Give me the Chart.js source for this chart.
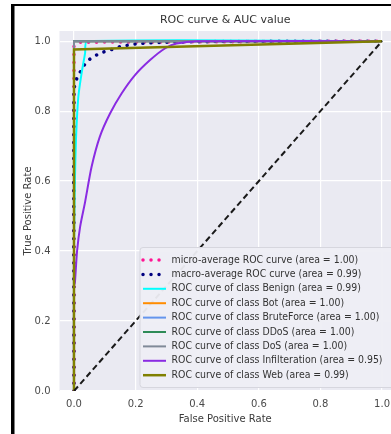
<!DOCTYPE html>
<html><head><meta charset="utf-8">
<script src="https://cdn.jsdelivr.net/npm/chart.js@4.4.1/dist/chart.umd.min.js"></script>
<style>html,body{margin:0;padding:0;background:#fff;overflow:hidden}canvas{display:block}</style>
</head><body>
<canvas id="c" width="391" height="434"></canvas>
<script>
// ---- data ----
const xTicks = [0.0, 0.2, 0.4, 0.6, 0.8, 1.0];
const yTicks = [0.0, 0.2, 0.4, 0.6, 0.8, 1.0];
const classNames = ['Benign', 'Bot', 'BruteForce', 'DDoS', 'DoS', 'Infilteration', 'Web'];
const classAUC = [0.99, 1.00, 1.00, 1.00, 1.00, 0.95, 0.99];
const microAUC = 1.00;
const macroAUC = 0.99;

const microFpr = [0, 0, 0.02, 1];
const microTpr = [0, 0.985, 0.997, 1];
const macroFpr = [0, 0, 0.009, 0.025, 0.041, 0.066, 0.093, 0.122, 0.149, 0.18, 0.21, 0.3, 0.5, 1];
const macroTpr = [0, 0.86, 0.893, 0.919, 0.941, 0.957, 0.968, 0.976, 0.984, 0.989, 0.993, 0.997, 0.999, 1];
const benignFpr = [0, 0, 0.003, 0.0065, 0.014, 0.025, 0.036, 0.042, 1];
const benignTpr = [0, 0.4, 0.6, 0.72, 0.84, 0.91, 0.965, 1.0, 1.0];
const botFpr = [0, 0, 1];
const botTpr = [0, 1, 1];
const bruteFpr = [0, 0, 1];
const bruteTpr = [0, 1, 1];
const ddosFpr = [0, 0, 1];
const ddosTpr = [0, 1, 1];
const dosFpr = [0, 0, 1];
const dosTpr = [0, 1, 1];
const infilFpr = [0, 0, 0.003, 0.01, 0.02, 0.036, 0.057, 0.084, 0.117, 0.155, 0.198, 0.247, 0.295, 0.333, 0.4, 1];
const infilTpr = [0, 0.3, 0.31, 0.4, 0.47, 0.54, 0.64, 0.727, 0.793, 0.851, 0.903, 0.946, 0.979, 0.993, 1.0, 1.0];
const webFpr = [0, 0, 1];
const webTpr = [0, 0.976, 1];
const diagX = [0, 1];
const diagY = [0, 1];

// ---- build ----
const pts = (xs, ys) => xs.map((x, i) => ({x: x, y: ys[i]}));
const FONT = 'DejaVu Sans';
const classFpr = [benignFpr, botFpr, bruteFpr, ddosFpr, dosFpr, infilFpr, webFpr];
const classTpr = [benignTpr, botTpr, bruteTpr, ddosTpr, dosTpr, infilTpr, webTpr];
const classColors = ['#00ffff', '#ff8c00', '#6495ed', '#2e8b57', '#808a98', '#8a2be2', '#808000'];
const classWidths = [2, 2, 2, 2, 2, 2, 2.5];
const classTension = [0.2, 0, 0, 0, 0, 0.25, 0];

const datasets = [];
datasets.push({label: 'micro-average ROC curve (area = ' + microAUC.toFixed(2) + ')',
  data: pts(microFpr, microTpr), borderColor: '#ff1493', borderWidth: 3.5,
  borderDash: [0.01, 8], borderCapStyle: 'round', inLegend: true});
datasets.push({label: 'macro-average ROC curve (area = ' + macroAUC.toFixed(2) + ')',
  data: pts(macroFpr, macroTpr), borderColor: '#000080', borderWidth: 3.5,
  borderDash: [0.01, 8], borderCapStyle: 'round', tension: 0.2, inLegend: true});
classNames.forEach((n, i) => {
  datasets.push({label: 'ROC curve of class ' + n + ' (area = ' + classAUC[i].toFixed(2) + ')',
    data: pts(classFpr[i], classTpr[i]), borderColor: classColors[i],
    borderWidth: classWidths[i], tension: classTension[i], inLegend: true});
});
datasets.push({label: 'chance', data: pts(diagX, diagY), borderColor: '#1a1a1a',
  borderWidth: 2, borderDash: [6, 3.5], inLegend: false});
const N = datasets.length;
datasets.forEach((d, i) => { d.order = N - i; d.pointRadius = 0; d.fill = false; });

const bgPlugin = {
  id: 'bg',
  beforeDraw(chart) {
    const ctx = chart.ctx, ca = chart.chartArea;
    ctx.save();
    ctx.fillStyle = '#ffffff';
    ctx.fillRect(0, 0, chart.width, chart.height);
    ctx.fillStyle = '#000000';
    ctx.fillRect(11, 4, 380, 2);
    ctx.fillRect(11, 4, 3.5, chart.height);
    ctx.fillStyle = '#eaeaf2';
    ctx.fillRect(ca.left, ca.top, ca.right - ca.left, ca.bottom - ca.top);
    ctx.restore();
  }
};

const legendPlugin = {
  id: 'roclegend',
  afterDraw(chart) {
    const ctx = chart.ctx;
    const items = chart.data.datasets.filter(d => d.inLegend);
    const bx = 140, by = 247.5, bw = 262, bh = 140;
    ctx.save();
    ctx.beginPath();
    if (ctx.roundRect) ctx.roundRect(bx, by, bw, bh, 3); else ctx.rect(bx, by, bw, bh);
    ctx.fillStyle = 'rgba(238,238,244,0.95)';
    ctx.fill();
    ctx.strokeStyle = '#d6d6de';
    ctx.lineWidth = 1;
    ctx.stroke();
    ctx.font = '10px "' + FONT + '"';
    let maxW = 0;
    items.forEach(d => { maxW = Math.max(maxW, ctx.measureText(d.label).width); });
    const sx = Math.min(1, 211 / maxW);
    items.forEach((d, i) => {
      const y = by + 12.5 + i * 14.4;
      ctx.beginPath();
      ctx.strokeStyle = d.borderColor;
      ctx.lineWidth = d.borderWidth;
      ctx.setLineDash(d.borderDash || []);
      ctx.lineCap = d.borderCapStyle || 'butt';
      ctx.moveTo(143, y);
      ctx.lineTo(166, y);
      ctx.stroke();
      ctx.setLineDash([]);
      ctx.save();
      ctx.translate(171.5, y);
      ctx.scale(sx, 1);
      ctx.fillStyle = '#333333';
      ctx.textBaseline = 'middle';
      ctx.textAlign = 'left';
      ctx.fillText(d.label, 0, 0);
      ctx.restore();
    });
    ctx.restore();
  }
};

const tickFont = {family: FONT, size: 10};
new Chart(document.getElementById('c'), {
  type: 'line',
  data: {datasets: datasets},
  plugins: [bgPlugin, legendPlugin],
  options: {
    responsive: false,
    animation: false,
    devicePixelRatio: 1,
    layout: {padding: 0},
    plugins: {
      legend: {display: false},
      tooltip: {enabled: false},
      title: {display: true, text: 'ROC curve & AUC value', fullSize: false, color: '#333333',
        font: {family: FONT, size: 11, weight: 'normal'}, padding: {top: 14, bottom: 3.8}}
    },
    scales: {
      x: {
        type: 'linear', min: -0.047, max: 1.029,
        afterBuildTicks: s => { s.ticks = xTicks.map(v => ({value: v})); },
        afterFit: s => { s.height = 43; s.paddingLeft = 0; s.paddingRight = 0; },
        grid: {color: '#ffffff', lineWidth: 1.2, drawTicks: false},
        border: {display: false},
        ticks: {padding: 7, color: '#4a4a4a', font: tickFont, maxRotation: 0, autoSkip: false,
          callback: v => Number(v).toFixed(1)},
        title: {display: true, text: 'False Positive Rate', color: '#3a3a3a', font: tickFont,
          padding: {top: 0, bottom: 9}}
      },
      y: {
        type: 'linear', min: 0, max: 1.029,
        afterBuildTicks: s => { s.ticks = yTicks.map(v => ({value: v})); },
        afterFit: s => { s.width = 59.5; s.paddingTop = 0; s.paddingBottom = 0; },
        grid: {color: '#ffffff', lineWidth: 1.2, drawTicks: false},
        border: {display: false},
        ticks: {padding: 9, color: '#4a4a4a', font: tickFont, autoSkip: false,
          callback: v => Number(v).toFixed(1)},
        title: {display: true, text: 'True Positive Rate', color: '#3a3a3a', font: tickFont,
          padding: {top: 22, bottom: 0}}
      }
    }
  }
});
</script>
</body></html>
